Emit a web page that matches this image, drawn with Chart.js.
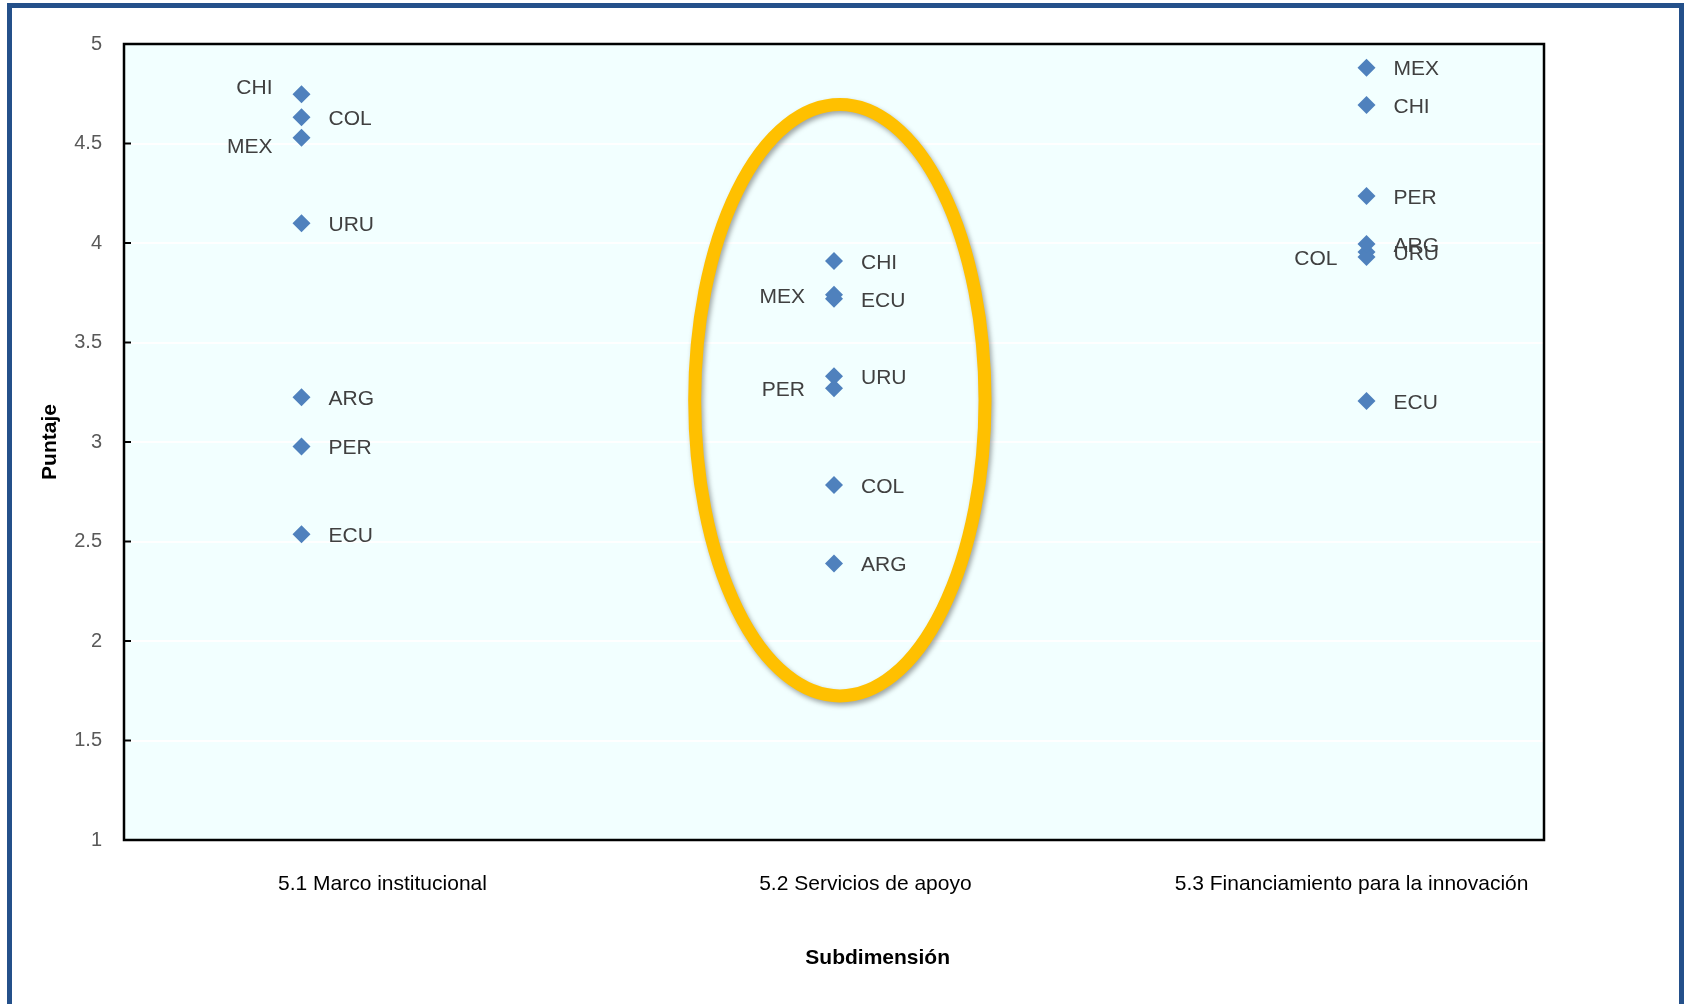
<!DOCTYPE html>
<html>
<head>
<meta charset="utf-8">
<script src="https://cdn.jsdelivr.net/npm/chart.js@4.4.0/dist/chart.umd.min.js"></script>
<style>
  html, body { margin: 0; padding: 0; background: #fff; width: 1684px; height: 1004px; overflow: hidden; }
  #frame { position: absolute; left: 7px; top: 3px; width: 1667px; height: 1100px; border: 5px solid #24508a; border-bottom: none; }
  #wrap { position: absolute; left: 0; top: 0; width: 1684px; height: 1004px; }
</style>
</head>
<body>
<div id="frame"></div>
<div id="wrap"><canvas id="grafico" width="1684" height="1004"></canvas></div>
<script>
// datos
var categories = ['5.1 Marco institucional', '5.2 Servicios de apoyo', '5.3 Financiamiento para la innovación'];
var countries = ['ARG', 'CHI', 'COL', 'ECU', 'MEX', 'PER', 'URU'];
var marcoInstitucional = [3.225, 4.747, 4.632, 2.536, 4.529, 2.978, 4.099];
var serviciosApoyo = [2.39, 3.91, 2.784, 3.72, 3.74, 3.27, 3.33];
var financiamiento = [3.995, 4.693, 3.93, 3.206, 4.881, 4.236, 3.955];
var yTicks = [1, 1.5, 2, 2.5, 3, 3.5, 4, 4.5, 5];

// posiciones de texto / estilo
var catTickAt = [1.152, 2.059, 2.972];
var xTitleAt = 2.082;
var labelLeft = { 'CHI-0': true, 'MEX-0': true, 'MEX-1': true, 'PER-1': true, 'COL-2': true };
var labelNudge = { 'CHI-0': -8, 'MEX-0': 7 };
var oval = { cx: 2.011, cy: 3.21, rx: 0.2726, ry: 1.486 };

var FONT = "'Liberation Sans Narrow', 'Arial Narrow', 'Liberation Sans', Arial, sans-serif";
Chart.defaults.font.family = FONT;

var series = [marcoInstitucional, serviciosApoyo, financiamiento];
var datasets = countries.map(function (c, i) {
    return {
        label: c,
        data: series.map(function (s, j) { return { x: j + 1, y: s[i] }; }),
        pointStyle: 'rectRot',
        pointRadius: 9,
        backgroundColor: '#4f81bd',
        borderColor: '#4f81bd',
        borderWidth: 0
    };
});

var plotBox = {
    id: 'plotBox',
    beforeDraw: function (chart) {
        var a = chart.chartArea, ctx = chart.ctx;
        ctx.save();
        ctx.fillStyle = '#f2ffff';
        ctx.fillRect(a.left, a.top, a.right - a.left, a.bottom - a.top);
        ctx.restore();
    },
    beforeDatasetsDraw: function (chart) {
        var a = chart.chartArea, ctx = chart.ctx, y = chart.scales.y;
        ctx.save();
        ctx.strokeStyle = '#000';
        ctx.lineWidth = 2.5;
        ctx.strokeRect(a.left, a.top, a.right - a.left, a.bottom - a.top);
        ctx.lineWidth = 2;
        yTicks.forEach(function (v) {
            var py = y.getPixelForValue(v);
            ctx.beginPath();
            ctx.moveTo(a.left, py);
            ctx.lineTo(a.left + 7, py);
            ctx.stroke();
        });
        ctx.restore();
    },
    afterDatasetsDraw: function (chart) {
        var ctx = chart.ctx;
        ctx.save();
        ctx.font = '21px ' + FONT;
        ctx.fillStyle = '#404040';
        ctx.textBaseline = 'middle';
        chart.data.datasets.forEach(function (ds, i) {
            var meta = chart.getDatasetMeta(i);
            meta.data.forEach(function (pt, j) {
                var key = ds.label + '-' + j;
                var dy = (labelNudge[key] || 0) + 2;
                if (labelLeft[key]) {
                    ctx.textAlign = 'right';
                    ctx.fillText(ds.label, pt.x - 29, pt.y + dy);
                } else {
                    ctx.textAlign = 'left';
                    ctx.fillText(ds.label, pt.x + 27, pt.y + dy);
                }
            });
        });
        // ovalo resaltado
        var xs = chart.scales.x, ys = chart.scales.y;
        var cx = xs.getPixelForValue(oval.cx), cy = ys.getPixelForValue(oval.cy);
        var rx = xs.getPixelForValue(oval.cx + oval.rx) - cx;
        var ry = cy - ys.getPixelForValue(oval.cy + oval.ry);
        ctx.shadowColor = 'rgba(0,0,0,0.35)';
        ctx.shadowBlur = 5;
        ctx.shadowOffsetX = 2;
        ctx.shadowOffsetY = 3;
        ctx.strokeStyle = '#ffc000';
        ctx.lineWidth = 13;
        ctx.beginPath();
        ctx.ellipse(cx, cy, rx, ry, 0, 0, Math.PI * 2);
        ctx.stroke();
        ctx.restore();
    },
    afterDraw: function (chart) {
        // titulo del eje x (en el original esta corrido a la derecha)
        var ctx = chart.ctx, xs = chart.scales.x;
        ctx.save();
        ctx.font = 'bold 21px ' + FONT;
        ctx.fillStyle = '#000';
        ctx.textAlign = 'center';
        ctx.textBaseline = 'middle';
        ctx.fillText('Subdimensión', xs.getPixelForValue(xTitleAt), chart.height - 46);
        ctx.restore();
    }
};

var ctx = document.getElementById('grafico').getContext('2d');
var grafico = new Chart(ctx, {
    type: 'scatter',
    data: { datasets: datasets },
    options: {
        responsive: false,
        animation: false,
        events: [],
        layout: { padding: { left: 0, top: 44, right: 140, bottom: 0 } },
        plugins: { legend: { display: false }, tooltip: { enabled: false } },
        scales: {
            x: {
                type: 'linear',
                min: 2 / 3,
                max: 10 / 3,
                afterBuildTicks: function (axis) {
                    axis.ticks = catTickAt.map(function (v) { return { value: v }; });
                },
                afterFit: function (scale) { scale.height = 164; },
                grid: { display: false, drawTicks: false },
                border: { display: false },
                ticks: {
                    autoSkip: false,
                    maxRotation: 0,
                    padding: 32,
                    color: '#000',
                    font: { size: 21 },
                    callback: function (value, index) { return categories[index]; }
                },
                title: { display: false }
            },
            y: {
                min: 1,
                max: 5,
                afterBuildTicks: function (axis) {
                    axis.ticks = yTicks.map(function (v) { return { value: v }; });
                },
                afterFit: function (scale) { scale.width = 124; },
                grid: { color: '#ffffff', lineWidth: 2, drawTicks: false },
                border: { display: false },
                ticks: {
                    padding: 22,
                    color: '#595959',
                    font: { size: 20 },
                    callback: function (value) { return String(value); }
                },
                title: {
                    display: true,
                    text: 'Puntaje',
                    color: '#000',
                    font: { size: 21, weight: 'bold' },
                    padding: { top: 38, bottom: 0 }
                }
            }
        }
    },
    plugins: [plotBox]
});
</script>
</body>
</html>
